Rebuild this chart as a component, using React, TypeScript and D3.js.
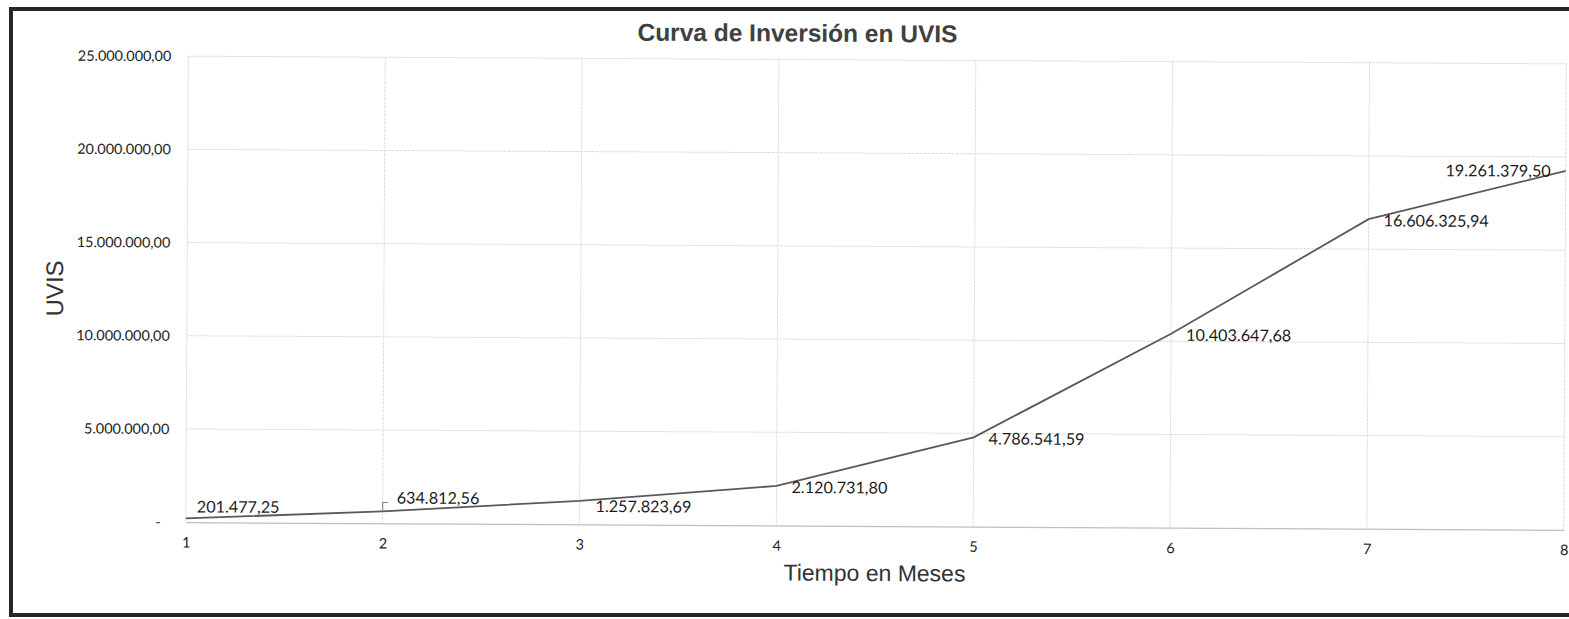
import React, { useRef, useEffect } from "react";
import * as d3 from "d3";

// months on the x axis and accumulated UVIS per month
const months = [1, 2, 3, 4, 5, 6, 7, 8];
const uvis = [
  201477.25, 634812.56, 1257823.69, 2120731.8, 4786541.59, 10403647.68,
  16606325.94, 19261379.5,
];
const yTicks = [0, 5000000, 10000000, 15000000, 20000000, 25000000];
// where Excel put each data label
const labelPlacement = ["above", "callout", "below", "right", "right", "right", "right", "left"];

const W = 1569;
const H = 619;

const es = d3.formatLocale({
  decimal: ",",
  thousands: ".",
  grouping: [3],
  currency: ["", ""],
});
const fmt = es.format(",.2f");

const App = () => {
  const svgRef = useRef<SVGSVGElement>(null);

  useEffect(() => {
    const margin = { top: 60, right: 4, bottom: 93, left: 187 };
    const svg = d3
      .select(svgRef.current)
      .attr("width", W)
      .attr("height", H)
      .style("background", "#fff");

    svg.selectAll("*").remove();

    // outer frame (right side runs off the page)
    svg.append("path")
      .attr("d", "M1600,9H11V615H1600")
      .attr("fill", "none")
      .attr("stroke", "#262626")
      .attr("stroke-width", 4);

    // the plot in the scan is slightly tilted
    const g = svg.append("g").attr("transform", "rotate(0.32 876 300)");

    const xScale = d3
      .scaleLinear()
      .domain([1, 8])
      .range([margin.left, W - margin.right]);

    const yScale = d3
      .scaleLinear()
      .domain([0, 25000000])
      .range([H - margin.bottom, margin.top]);

    // gridlines
    g.append("g")
      .selectAll("line")
      .data(yTicks.filter((d) => d > 0))
      .enter()
      .append("line")
      .attr("x1", xScale(1))
      .attr("x2", xScale(8))
      .attr("y1", (d) => yScale(d))
      .attr("y2", (d) => yScale(d))
      .attr("stroke", "#d9d9d9")
      .attr("stroke-dasharray", "3 1");

    g.append("g")
      .selectAll("line")
      .data(months)
      .enter()
      .append("line")
      .attr("x1", (d) => xScale(d))
      .attr("x2", (d) => xScale(d))
      .attr("y1", yScale(25000000))
      .attr("y2", yScale(0))
      .attr("stroke", "#dcdcdc")
      .attr("stroke-dasharray", "3 1");

    // x axis
    const xAxis = d3
      .axisBottom(xScale)
      .tickValues(months)
      .tickSize(0)
      .tickPadding(15)
      .tickFormat(d3.format("d"));
    const xg = g
      .append("g")
      .attr("transform", `translate(0, ${yScale(0)})`)
      .call(xAxis);
    xg.select(".domain").attr("stroke", "#bfbfbf").attr("stroke-width", 1.2);
    xg.selectAll(".tick text")
      .attr("font-size", "14.5px")
      .attr("font-family", "Lato, 'Open Sans', sans-serif")
      .attr("fill", "#222");

    // y axis
    const yAxis = d3
      .axisLeft(yScale)
      .tickValues(yTicks)
      .tickSize(0)
      .tickPadding(17)
      .tickFormat((d) => (+d === 0 ? "-" : fmt(+d)));
    const yg = g
      .append("g")
      .attr("transform", `translate(${margin.left}, 0)`)
      .call(yAxis);
    yg.select(".domain").remove();
    yg.selectAll(".tick text")
      .attr("font-size", "14.4px")
      .attr("font-family", "Lato, 'Open Sans', sans-serif")
      .attr("fill", "#222");
    yg.selectAll(".tick text")
      .filter((d) => +d === 0)
      .attr("x", -25);

    // the curve
    const line = d3
      .line<number>()
      .x((_, i) => xScale(months[i]))
      .y((d) => yScale(d));

    g.append("path")
      .datum(uvis)
      .attr("d", line)
      .attr("fill", "none")
      .attr("stroke", "#595959")
      .attr("stroke-width", 1.8);

    // data labels
    const labels = g.append("g");
    uvis.forEach((v, i) => {
      const px = xScale(months[i]);
      const py = yScale(v);
      const place = labelPlacement[i];
      let tx = px + 15;
      let ty = py + 7;
      let anchor = "start";
      if (place === "above") {
        tx = px + 11;
        ty = py - 6;
      } else if (place === "below") {
        tx = px + 16;
        ty = py + 11;
      } else if (place === "callout") {
        tx = px + 14;
        ty = py - 8;
        labels
          .append("path")
          .attr("d", `M${px},${py}V${py - 9}H${px + 5}`)
          .attr("fill", "none")
          .attr("stroke", "#7f7f7f")
          .attr("stroke-width", 1);
      } else if (place === "left") {
        tx = px - 15;
        ty = py + 6;
        anchor = "end";
      }
      labels
        .append("text")
        .attr("x", tx)
        .attr("y", ty)
        .attr("text-anchor", anchor)
        .attr("font-size", "16.2px")
        .attr("font-family", "Lato, 'Open Sans', sans-serif")
        .attr("fill", "#1a1a1a")
        .text(fmt(v));
    });

    // titles
    g.append("text")
      .attr("x", 796)
      .attr("y", 42)
      .attr("text-anchor", "middle")
      .attr("font-family", "'Liberation Sans', Arial, sans-serif")
      .attr("font-weight", "bold")
      .attr("font-size", "24.5px")
      .attr("fill", "#404040")
      .text("Curva de Inversión en UVIS");

    g.append("text")
      .attr("x", (xScale(1) + xScale(8)) / 2)
      .attr("y", 581)
      .attr("text-anchor", "middle")
      .attr("font-family", "'Liberation Sans', Arial, sans-serif")
      .attr("font-size", "23px")
      .attr("fill", "#333")
      .text("Tiempo en Meses");

    g.append("text")
      .attr("transform", `translate(63, ${(yScale(0) + yScale(25000000)) / 2}) rotate(-90)`)
      .attr("text-anchor", "middle")
      .attr("font-family", "'Liberation Sans', Arial, sans-serif")
      .attr("font-size", "24px")
      .attr("fill", "#333")
      .text("UVIS");
  }, []);

  return (
    <svg
      ref={svgRef}
      style={{ position: "absolute", left: 0, top: 0, display: "block" }}
    ></svg>
  );
};

export default App;
